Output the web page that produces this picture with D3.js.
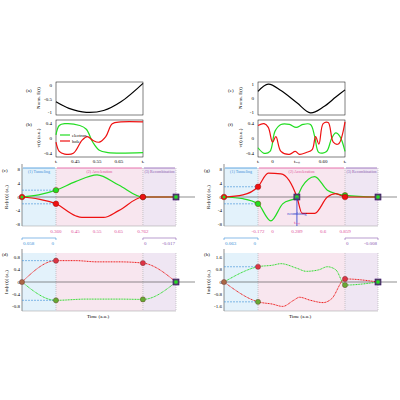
<!DOCTYPE html><html><head><script src="https://cdn.jsdelivr.net/npm/d3@7"></script>
<style>body{margin:0;background:#fff}text{font-family:"Liberation Serif",serif}</style></head><body><svg id="s" width="400" height="400"></svg>
<script>
// Left column (times in a.u.)
const L = {ti:0.360, tr:0.762, t0:0.203, tend:0.915,
 efield:[[0.36,-0.6],[0.42,-0.85],[0.5,-1.0],[0.58,-0.93],[0.66,-0.6],[0.762,0.1]],
 vEl:[[0.36,0.1],[0.375,0.35],[0.4,0.4],[0.47,0.35],[0.5,0.25],[0.53,-0.1],[0.56,-0.32],[0.6,-0.38],[0.762,-0.38]],
 vHo:[[0.36,-0.1],[0.375,-0.35],[0.4,-0.42],[0.44,-0.4],[0.48,-0.05],[0.505,0.05],[0.53,-0.05],[0.56,-0.1],[0.59,0.05],[0.62,0.4],[0.66,0.45],[0.762,0.45]],
 reEl:[[0.203,0],[0.28,0.6],[0.36,2],[0.45,4.5],[0.55,6.5],[0.65,3.5],[0.762,0],[0.915,0]],
 reHo:[[0.203,0],[0.28,-0.6],[0.36,-2],[0.45,-5.5],[0.48,-6],[0.58,-6],[0.65,-4],[0.762,0],[0.915,0]],
 imEl:[[0.203,0],[0.36,-0.6],[0.5,-0.56],[0.65,-0.56],[0.762,-0.57],[0.915,0]],
 imHo:[[0.203,0],[0.36,0.7],[0.45,0.7],[0.55,0.66],[0.65,0.66],[0.762,0.62],[0.915,0]],
 topTicks:[[0.36,"tᵢ"],[0.45,"0.45"],[0.55,"0.55"],[0.65,"0.65"],[0.762,"tᵣ"]],
 midTicks:[[0.36,"0.360"],[0.45,"0.45"],[0.55,"0.55"],[0.65,"0.65"],[0.762,"0.762"]],
 tunnel:["0.058","0"], recomb:["0","-0.017"], reTicks:[8,4,0,-4,-8], imTicks:[0.8,0.4,0,-0.4,-0.8], imMax:0.95, reMax:8.5,
 reStart:[2,-2], imStart:[0.7,-0.6], reEnd:[0,0], imEnd:[0.62,-0.57], labels:["(a)","(b)","(c)","(d)"], eTicks:[0,-0.5,-1], eDom:[-1.1,0.15]};
// Right column
const R = {ti:-0.172, tr:0.859, t0:-0.575, tend:1.25, tion:0.289,
 efield:[[-0.172,0.5],[-0.05,1.0],[0.1,0.55],[0.289,-0.3],[0.45,-1.0],[0.6,-0.6],[0.75,0.1],[0.859,0.6]],
 vEl:[[-0.172,-0.25],[-0.1,-0.4],[-0.03,-0.35],[0.03,0.2],[0.1,0.38],[0.2,0.38],[0.28,0.3],[0.36,0.38],[0.45,0.38],[0.5,0.05],[0.55,-0.38],[0.64,-0.35],[0.7,0],[0.75,0.15],[0.8,0.05],[0.859,-0.35]],
 vHo:[[-0.172,0.35],[-0.1,0.4],[-0.05,0.3],[0,-0.1],[0.04,0.05],[0.1,-0.35],[0.2,-0.43],[0.27,-0.35],[0.32,-0.43],[0.4,-0.38],[0.47,-0.3],[0.51,0.05],[0.55,-0.15],[0.6,0.4],[0.66,0.43],[0.72,-0.1],[0.78,-0.15],[0.859,0.45]],
 reEl:[[-0.575,0],[-0.35,-0.5],[-0.172,-2],[-0.02,-7],[0.12,-2],[0.289,0],[0.35,3],[0.5,6],[0.65,2],[0.75,1],[0.859,0.5],[1.25,0]],
 reHo:[[-0.575,0],[-0.35,0.6],[-0.172,3],[-0.05,7],[0.1,6.8],[0.289,0],[0.35,-4.8],[0.5,-4.8],[0.65,0],[0.75,1],[0.859,0],[1.25,0]],
 imEl:[[-0.575,0],[-0.172,1.0],[0,1.1],[0.1,1.2],[0.289,0.9],[0.4,0.7],[0.55,0.8],[0.65,1.0],[0.75,0.8],[0.859,-0.2],[1.25,0]],
 imHo:[[-0.575,0],[-0.172,-1.3],[0,-1.45],[0.12,-1.6],[0.25,-1.2],[0.32,-1.0],[0.45,-1.2],[0.6,-1.35],[0.7,-1.1],[0.859,0.2],[1.25,0]],
 topTicks:[[-0.172,"tᵢ"],[0,"0"],[0.289,"tᵢₒₙ"],[0.6,"0.60"],[0.859,"tᵣ"]],
 midTicks:[[-0.172,"-0.172"],[0,"0"],[0.289,"0.289"],[0.6,"0.6"],[0.859,"0.859"]],
 tunnel:["0.063","0"], recomb:["0","-0.008"], reTicks:[8,4,0,-4,-8], imTicks:[1.6,0.8,0,-0.8,-1.6], imMax:1.9, reMax:8.5,
 reStart:[3,-2], imStart:[1.0,-1.3], reEnd:[0,0.5], imEnd:[0.2,-0.2], labels:["(e)","(f)","(g)","(h)"], eTicks:[1,0,-1], eDom:[-1.15,1.15]};

const svg=d3.select("#s");
const GREEN="#22dd22", RED="#ee1111";
function col(C,ox){
  const g=svg.append("g");
  const fs=5;
  const xt=d3.scaleLinear().domain([C.ti,C.tr]).range([ox+56,ox+143]);
  const xb=d3.scaleLinear().domain([C.t0,C.tend]).range([ox+22,ox+176]);
  // (a) field
  const ya=d3.scaleLinear().domain(C.eDom).range([115,82]);
  g.append("rect").attr("x",ox+56).attr("y",82).attr("width",87).attr("height",33).attr("fill","none").attr("stroke","#000").attr("stroke-width",0.5);
  g.append("path").datum(C.efield).attr("d",d3.line().x(d=>xt(d[0])).y(d=>ya(d[1])).curve(d3.curveCatmullRom)).attr("fill","none").attr("stroke","#000").attr("stroke-width",1.2);
  C.eTicks.forEach(v=>{g.append("text").attr("x",ox+52).attr("y",ya(v)+1.5).attr("text-anchor","end").attr("font-size",fs).text(v);});
  g.append("text").attr("transform",`translate(${ox+40},98) rotate(-90)`).attr("text-anchor","middle").attr("font-size",fs).text("Norm. E(t)");
  g.append("text").attr("x",ox+26).attr("y",92).attr("font-size",fs).text(C.labels[0]);
  // (b) velocity
  const yv=d3.scaleLinear().domain([-0.5,0.5]).range([157,120]);
  g.append("rect").attr("x",ox+56).attr("y",120).attr("width",87).attr("height",37).attr("fill","none").attr("stroke","#000").attr("stroke-width",0.5);
  const lv=d3.line().x(d=>xt(d[0])).y(d=>yv(d[1])).curve(d3.curveCatmullRom);
  g.append("path").datum(C.vEl).attr("d",lv).attr("fill","none").attr("stroke",GREEN).attr("stroke-width",1.2);
  g.append("path").datum(C.vHo).attr("d",lv).attr("fill","none").attr("stroke",RED).attr("stroke-width",1.2);
  [0.4,0,-0.4].forEach(v=>g.append("text").attr("x",ox+52).attr("y",yv(v)+1.5).attr("text-anchor","end").attr("font-size",fs).text(v));
  C.topTicks.forEach(d=>g.append("text").attr("x",xt(d[0])).attr("y",163).attr("text-anchor","middle").attr("font-size",fs).text(d[1]));
  g.append("text").attr("transform",`translate(${ox+40},138) rotate(-90)`).attr("text-anchor","middle").attr("font-size",fs).text("v(t) (a.u.)");
  g.append("text").attr("x",ox+26).attr("y",126).attr("font-size",fs).text(C.labels[1]);
  if(ox===0){
    [["electron",GREEN,135],["hole",RED,141]].forEach(d=>{
      g.append("line").attr("x1",ox+60).attr("x2",ox+70).attr("y1",d[2]).attr("y2",d[2]).attr("stroke",d[1]).attr("stroke-width",1.2);
      g.append("text").attr("x",ox+72).attr("y",d[2]+1.5).attr("font-size",4.5).text(d[0]);});
  }
  // regions
  function regions(y0,y1,head){
    g.append("rect").attr("x",xb(C.t0)).attr("y",y0).attr("width",xb(C.ti)-xb(C.t0)).attr("height",y1-y0).attr("fill","#e3f2fb");
    g.append("rect").attr("x",xb(C.ti)).attr("y",y0).attr("width",xb(C.tr)-xb(C.ti)).attr("height",y1-y0).attr("fill","#f8e6ef");
    g.append("rect").attr("x",xb(C.tr)).attr("y",y0).attr("width",xb(C.tend)-xb(C.tr)).attr("height",y1-y0).attr("fill","#efe6f3");
    [C.ti,C.tr,C.tend].forEach(t=>g.append("line").attr("x1",xb(t)).attr("x2",xb(t)).attr("y1",y0).attr("y2",y1).attr("stroke","#999").attr("stroke-width",0.5).attr("stroke-dasharray","1,1"));
    if(head){
      [[C.t0,C.ti,"#3a8fd8","(1) Tunneling"],[C.ti,C.tr,"#e0509a","(2) Acceleration"],[C.tr,C.tend,"#8a5ab0","(3) Recombination"]].forEach(d=>{
        g.append("line").attr("x1",xb(d[0])+1).attr("x2",xb(d[1])-1).attr("y1",y0).attr("y2",y0).attr("stroke",d[2]).attr("stroke-width",0.8);
        g.append("text").attr("x",(xb(d[0])+xb(d[1]))/2).attr("y",y0+5).attr("text-anchor","middle").attr("font-size",4).attr("fill",d[2]).text(d[3]);});
    }
  }
  // (c) real part
  const yr=d3.scaleLinear().domain([-C.reMax,C.reMax]).range([226,168]);
  regions(168,226,true);
  g.append("line").attr("x1",ox+22).attr("x2",ox+195).attr("y1",yr(0)).attr("y2",yr(0)).attr("stroke","#444").attr("stroke-width",0.6);
  g.append("line").attr("x1",ox+22).attr("x2",ox+22).attr("y1",226).attr("y2",164).attr("stroke","#444").attr("stroke-width",0.6);
  g.append("line").attr("x1",ox+22).attr("x2",ox+176).attr("y1",226).attr("y2",226).attr("stroke","#999").attr("stroke-width",0.5);
  C.reTicks.forEach(v=>g.append("text").attr("x",ox+20).attr("y",yr(v)+1.5).attr("text-anchor","end").attr("font-size",fs).text(v));
  const lr=d3.line().x(d=>xb(d[0])).y(d=>yr(d[1])).curve(d3.curveMonotoneX);
  g.append("path").datum(C.reEl).attr("d",lr).attr("fill","none").attr("stroke",GREEN).attr("stroke-width",1.2);
  g.append("path").datum(C.reHo).attr("d",lr).attr("fill","none").attr("stroke",RED).attr("stroke-width",1.2);
  C.reStart.forEach(v=>g.append("line").attr("x1",ox+22).attr("x2",xb(C.ti)).attr("y1",yr(v)).attr("y2",yr(v)).attr("stroke","#3a8fd8").attr("stroke-width",0.6).attr("stroke-dasharray","2,1"));
  g.append("text").attr("transform",`translate(${ox+8},197) rotate(-90)`).attr("text-anchor","middle").attr("font-size",fs).text("Re[r(t)] (a₀)");
  g.append("text").attr("x",ox+2).attr("y",172).attr("font-size",fs).text(C.labels[2]);
  const dot=(x,y,c)=>g.append("circle").attr("cx",x).attr("cy",y).attr("r",2.8).attr("fill",c).attr("stroke","#800").attr("stroke-width",0.4);
  const sq=(x,y)=>{g.append("rect").attr("x",x-3).attr("y",y-3).attr("width",6).attr("height",6).attr("fill","#556").attr("stroke","#306").attr("stroke-width",0.6);g.append("circle").attr("cx",x).attr("cy",y).attr("r",1.8).attr("fill",GREEN);};
  dot(xb(C.t0),yr(0),RED); g.append("circle").attr("cx",xb(C.t0)).attr("cy",yr(0)).attr("r",1.5).attr("fill",GREEN);
  dot(xb(C.ti),yr(C.reStart[0]),C.reStart[0]>0&&ox>0?RED:GREEN);
  dot(xb(C.ti),yr(C.reStart[1]),C.reStart[0]>0&&ox>0?GREEN:RED);
  dot(xb(C.tr),yr(C.reEnd[1]),GREEN); dot(xb(C.tr),yr(C.reEnd[0]),RED);
  sq(xb(C.tend),yr(0));
  if(C.tion!==undefined){ sq(xb(C.tion),yr(0));
    g.append("line").attr("x1",xb(C.tion)).attr("x2",xb(C.tion)).attr("y1",yr(0)).attr("y2",226).attr("stroke","#2233cc").attr("stroke-width",0.8);
    g.append("text").attr("x",xb(C.tion)).attr("y",215).attr("text-anchor","middle").attr("font-size",3.8).attr("fill","#2233cc").text("recombining");
    g.append("text").attr("x",xb(C.tion)).attr("y",224).attr("text-anchor","middle").attr("font-size",fs).attr("fill","#e0509a").text("tᵢₒₙ");}
  // tick labels below
  C.midTicks.forEach(d=>g.append("text").attr("x",xb(d[0])).attr("y",233).attr("text-anchor","middle").attr("font-size",fs).attr("fill","#e0509a").text(d[1]));
  g.append("path").attr("d",`M${xb(C.t0)},240V238H${xb(C.ti)}V240`).attr("fill","none").attr("stroke","#3a8fd8").attr("stroke-width",0.6);
  g.append("path").attr("d",`M${xb(C.tr)},240V238H${xb(C.tend)}V240`).attr("fill","none").attr("stroke","#8a5ab0").attr("stroke-width",0.6);
  g.append("text").attr("x",xb(C.t0)+1).attr("y",245).attr("font-size",fs).attr("fill","#3a8fd8").text(C.tunnel[0]);
  g.append("text").attr("x",xb(C.ti)-2).attr("y",245).attr("text-anchor","end").attr("font-size",fs).attr("fill","#3a8fd8").text(C.tunnel[1]);
  g.append("text").attr("x",xb(C.tr)+1).attr("y",245).attr("font-size",fs).attr("fill","#8a5ab0").text(C.recomb[0]);
  g.append("text").attr("x",xb(C.tend)-1).attr("y",245).attr("text-anchor","end").attr("font-size",fs).attr("fill","#8a5ab0").text(C.recomb[1]);
  // (d) imag part
  const yi=d3.scaleLinear().domain([-C.imMax,C.imMax]).range([311,253]);
  regions(253,311,false);
  g.append("line").attr("x1",ox+22).attr("x2",ox+195).attr("y1",yi(0)).attr("y2",yi(0)).attr("stroke","#444").attr("stroke-width",0.6);
  g.append("line").attr("x1",ox+22).attr("x2",ox+22).attr("y1",311).attr("y2",249).attr("stroke","#444").attr("stroke-width",0.6);
  g.append("line").attr("x1",ox+22).attr("x2",ox+176).attr("y1",311).attr("y2",311).attr("stroke","#999").attr("stroke-width",0.5);
  C.imTicks.forEach(v=>g.append("text").attr("x",ox+20).attr("y",yi(v)+1.5).attr("text-anchor","end").attr("font-size",fs).text(v));
  const li=d3.line().x(d=>xb(d[0])).y(d=>yi(d[1])).curve(d3.curveMonotoneX);
  g.append("path").datum(C.imEl).attr("d",li).attr("fill","none").attr("stroke",GREEN).attr("stroke-width",1).attr("stroke-dasharray","1,0.6");
  g.append("path").datum(C.imHo).attr("d",li).attr("fill","none").attr("stroke",RED).attr("stroke-width",1).attr("stroke-dasharray","1,0.6");
  C.imStart.forEach(v=>g.append("line").attr("x1",ox+22).attr("x2",xb(C.ti)).attr("y1",yi(v)).attr("y2",yi(v)).attr("stroke","#3a8fd8").attr("stroke-width",0.6).attr("stroke-dasharray","2,1"));
  const d2=(x,y,c)=>g.append("circle").attr("cx",x).attr("cy",y).attr("r",2.6).attr("fill",c).attr("stroke","#633").attr("stroke-width",0.4);
  d2(xb(C.t0),yi(0),"#a64");
  d2(xb(C.ti),yi(C.imStart[0]),"#dd3344"); d2(xb(C.ti),yi(C.imStart[1]),"#66aa33");
  d2(xb(C.tr),yi(C.imEnd[0]),"#dd3344"); d2(xb(C.tr),yi(C.imEnd[1]),"#66aa33");
  sq(xb(C.tend),yi(0));
  g.append("text").attr("transform",`translate(${ox+8},282) rotate(-90)`).attr("text-anchor","middle").attr("font-size",fs).text("Im[r(t)] (a₀)");
  g.append("text").attr("x",ox+2).attr("y",256).attr("font-size",fs).text(C.labels[3]);
  g.append("text").attr("x",ox+98).attr("y",318).attr("text-anchor","middle").attr("font-size",fs).text("Time (a.u.)");
}
col(L,0); col(R,202);
</script></body></html>
